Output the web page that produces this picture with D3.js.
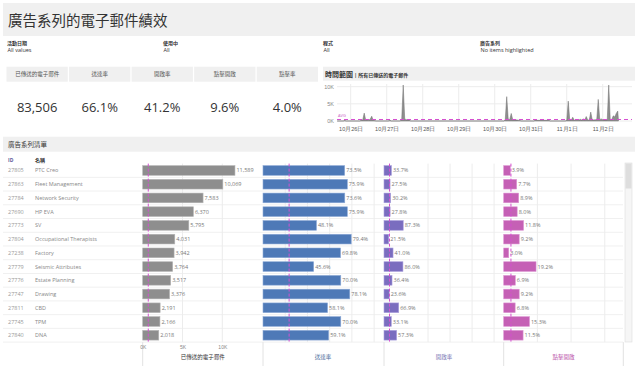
<!DOCTYPE html>
<html lang="zh-Hant">
<head>
<meta charset="UTF-8" />
<title>廣告系列的電子郵件績效</title>
<style>
  body { margin: 0; background: #fff; }
  svg { display: block; font-family: "Open Sans", "Noto Sans CJK TC", sans-serif; }
  .axis path, .axis line { display: none; }
</style>
</head>
<body>
<script src="https://cdn.jsdelivr.net/npm/d3@7"></script>
<script>
// ---- data ----
var filterLabels = ["活動日期", "使用中", "程式", "廣告系列"];
var filterValues = ["All values", "All", "All", "No items highlighted"];

var kpiLabels = ["已傳送的電子郵件", "送達率", "開啟率", "點擊開啟", "點擊率"];
var kpiValues = ["83,506", "66.1%", "41.2%", "9.6%", "4.0%"];

// emails sent over time
var sentTimes = [
  "2020-10-25 15:00", "2020-10-25 19:00", "2020-10-25 20:00", "2020-10-25 21:00",
  "2020-10-26 06:00", "2020-10-26 07:00", "2020-10-26 08:00", "2020-10-26 09:00",
  "2020-10-26 10:00", "2020-10-26 12:00", "2020-10-26 13:00", "2020-10-26 14:00",
  "2020-10-26 15:00", "2020-10-26 17:00",
  "2020-10-27 01:00", "2020-10-27 02:00", "2020-10-27 03:00", "2020-10-27 09:00",
  "2020-10-27 10:00", "2020-10-27 11:00", "2020-10-27 12:00", "2020-10-27 13:00",
  "2020-10-27 15:00", "2020-10-27 16:00",
  "2020-10-30 06:00", "2020-10-30 07:00", "2020-10-30 08:00", "2020-10-30 09:00",
  "2020-10-30 10:00", "2020-10-30 11:00", "2020-10-30 12:00", "2020-10-30 15:00",
  "2020-10-30 17:00", "2020-10-30 18:00",
  "2020-10-31 02:00", "2020-10-31 03:00", "2020-10-31 12:00", "2020-10-31 13:00",
  "2020-10-31 23:00",
  "2020-11-01 00:00", "2020-11-01 01:00", "2020-11-01 02:00", "2020-11-01 03:00",
  "2020-11-01 04:00", "2020-11-01 05:00", "2020-11-01 08:00", "2020-11-01 09:00",
  "2020-11-01 10:00", "2020-11-01 11:00", "2020-11-01 12:00", "2020-11-01 13:00",
  "2020-11-01 14:00", "2020-11-01 15:00", "2020-11-01 16:00", "2020-11-01 17:00",
  "2020-11-01 20:00", "2020-11-01 21:00", "2020-11-01 22:00", "2020-11-01 23:00",
  "2020-11-02 00:00", "2020-11-02 01:00", "2020-11-02 03:00", "2020-11-02 04:00",
  "2020-11-02 05:00", "2020-11-02 06:00", "2020-11-02 07:00", "2020-11-02 08:00",
  "2020-11-02 09:00", "2020-11-02 10:00", "2020-11-02 10:30"
];
var sentAmounts = [
  0, 0, 150, 0,
  0, 200, 300, 2300,
  300, 250, 500, 1400,
  200, 0,
  0, 250, 0, 0,
  500, 10500, 600, 400,
  300, 0,
  0, 300, 7100, 500,
  400, 2200, 400, 300,
  100, 0,
  0, 200, 200, 0,
  0,
  200, 5800, 300, 200,
  1100, 200, 200, 500,
  300, 600, 300, 1300,
  300, 200, 2600, 300,
  400, 6300, 400, 600,
  400, 300, 300, 10500,
  400, 400, 1500, 1200,
  2200, 2900, 100
];
var sentAverage = 440;

var campaignIds = ["27805", "27863", "27784", "27690", "27773", "27804", "27238",
  "27779", "27776", "27747", "27811", "27745", "27840"];
var campaignNames = ["PTC Creo", "Fleet Management", "Network Security", "HP EVA", "SV",
  "Occupational Therapists", "Factory", "Seismic Attributes", "Estate Planning",
  "Drawing", "CBD", "TPM", "DNA"];
var sentCounts = [11589, 10069, 7583, 6370, 5795, 4031, 3942, 3764, 3517, 3376, 2191, 2166, 2018];
var deliveryRates = [73.5, 75.9, 73.6, 75.9, 48.1, 79.4, 69.8, 45.6, 70.0, 78.1, 58.1, 70.0, 59.1];
var openRates = [33.7, 27.5, 30.2, 27.8, 87.3, 21.5, 41.0, 86.0, 36.4, 23.6, 66.9, 33.1, 57.3];
var clickOpenRates = [3.9, 7.7, 8.9, 8.0, 11.8, 9.2, 3.0, 19.2, 6.9, 9.2, 6.8, 15.3, 11.5];
var columnTitles = ["已傳送的電子郵件", "送達率", "開啟率", "點擊開啟"];
var columnAverages = [700, 23.5, 25, 4.3];

// ---- drawing ----
var svg = d3.select("body").append("svg")
  .attr("width", 640)
  .attr("height", 370);

var band = "#f0f0f0";

// title
svg.append("rect").attr("x", 3).attr("y", 3).attr("width", 632).attr("height", 33).attr("fill", band);
svg.append("text").attr("x", 8).attr("y", 26)
  .style("font-size", "14.5px").attr("fill", "#333")
  .text("廣告系列的電子郵件績效");

// filters
var filterX = [7, 163, 323, 480];
filterLabels.forEach(function(l, i) {
  svg.append("text").attr("x", filterX[i]).attr("y", 44.5)
    .style("font-size", "5px").style("font-weight", "bold").attr("fill", "#333").text(l);
  svg.append("text").attr("x", filterX[i] + 0.5).attr("y", 52)
    .style("font-size", "5.5px").attr("fill", "#333").text(filterValues[i]);
});

// KPI tiles
var kpiX = d3.scaleBand().domain(kpiLabels).range([6.5, 318]).paddingInner(0.02);
var kpi = svg.selectAll("g.kpi").data(kpiLabels).enter().append("g")
  .attr("class", "kpi")
  .attr("transform", function(d) { return "translate(" + kpiX(d) + ",0)"; });
kpi.append("rect").attr("y", 66.7).attr("height", 15).attr("width", kpiX.bandwidth()).attr("fill", band);
kpi.append("text").attr("x", kpiX.bandwidth() / 2).attr("y", 76)
  .attr("text-anchor", "middle").style("font-size", "5.5px").attr("fill", "#555")
  .text(function(d) { return d; });
kpi.append("text").attr("x", kpiX.bandwidth() / 2).attr("y", 111.5)
  .attr("text-anchor", "middle").style("font-size", "13px").attr("fill", "#333")
  .text(function(d, i) { return kpiValues[i]; });

// time chart header
svg.append("rect").attr("x", 323).attr("y", 66.7).attr("width", 312).attr("height", 14).attr("fill", band);
var th = svg.append("text").attr("x", 325).attr("y", 76.5).attr("fill", "#333");
th.append("tspan").style("font-size", "7px").style("font-weight", "bold").text("時間範圍");
th.append("tspan").style("font-size", "5px").style("font-weight", "bold").text(" | 所有已傳送的電子郵件");

var parseTime = d3.timeParse("%Y-%m-%d %H:%M");
var sentSeries = sentTimes.map(function(t, i) { return { t: parseTime(t), v: sentAmounts[i] }; });

var xTime = d3.scaleTime()
  .domain([parseTime("2020-10-25 14:52"), parseTime("2020-11-02 19:30")])
  .range([337, 632]);
var yTime = d3.scaleLinear().domain([0, 10000]).range([121, 86.7]);

// grid
var days = xTime.ticks(d3.timeDay.every(1));
svg.append("g").selectAll("line").data(days).enter().append("line")
  .attr("x1", function(d) { return xTime(d); }).attr("x2", function(d) { return xTime(d); })
  .attr("y1", 84).attr("y2", 121).attr("stroke", "#ececec");
svg.append("g").selectAll("line").data([0, 5000, 10000]).enter().append("line")
  .attr("x1", 337).attr("x2", 632)
  .attr("y1", function(d) { return yTime(d); }).attr("y2", function(d) { return yTime(d); })
  .attr("stroke", "#ececec");

var area = d3.area()
  .x(function(d) { return xTime(d.t); })
  .y0(yTime(0))
  .y1(function(d) { return yTime(d.v); });
svg.append("path").datum(sentSeries).attr("d", area)
  .attr("fill", "#8e8e8e").attr("stroke", "#6f6f6f").attr("stroke-width", 0.5);

svg.append("line").attr("x1", 337).attr("x2", 632)
  .attr("y1", yTime(sentAverage)).attr("y2", yTime(sentAverage))
  .attr("stroke", "#d54fd0").attr("stroke-width", 1).attr("stroke-dasharray", "4,3");
svg.append("text").attr("x", 338).attr("y", 117).style("font-size", "4px")
  .attr("fill", "#c75ac4").text("AVG");

svg.append("g").attr("class", "axis")
  .attr("transform", "translate(334,0)")
  .call(d3.axisLeft(yTime).tickValues([0, 5000, 10000]).tickSize(0).tickPadding(0)
    .tickFormat(function(d) { return d / 1000 + "K"; }))
  .selectAll("text").style("font-size", "5.5px").attr("fill", "#888");

svg.append("g").attr("class", "axis")
  .attr("transform", "translate(0,121)")
  .call(d3.axisBottom(xTime).ticks(d3.timeDay.every(1)).tickSize(0).tickPadding(6)
    .tickFormat(function(d) { return (d.getMonth() + 1) + "月" + d.getDate() + "日"; }))
  .selectAll("text").style("font-size", "5.5px").attr("fill", "#555");

// campaign list
svg.append("rect").attr("x", 3).attr("y", 136.7).attr("width", 632).attr("height", 15).attr("fill", band);
svg.append("text").attr("x", 8).attr("y", 146.5).style("font-size", "6.5px")
  .attr("fill", "#333").text("廣告系列清單");

svg.append("text").attr("x", 8).attr("y", 161.5).style("font-size", "5px")
  .style("font-weight", "bold").attr("fill", "#5b5b9b").text("ID");
svg.append("text").attr("x", 35).attr("y", 161.5).style("font-size", "5px")
  .style("font-weight", "bold").attr("fill", "#333").text("名稱");

var rowY = d3.scaleBand().domain(campaignIds).range([163.6, 342.1]);
var barH = 9.7;
var tableTop = 163.6, tableBottom = 342.1;

// row separators
svg.append("g").selectAll("line").data(campaignIds).enter().append("line")
  .attr("x1", 3).attr("x2", 623)
  .attr("y1", function(d) { return rowY(d) + rowY.bandwidth(); })
  .attr("y2", function(d) { return rowY(d) + rowY.bandwidth(); })
  .attr("stroke", "#f0f0f0");

svg.append("g").selectAll("text").data(campaignIds).enter().append("text")
  .attr("x", 8).attr("y", function(d) { return rowY(d) + rowY.bandwidth() / 2 + 2; })
  .style("font-size", "5.5px").attr("fill", "#999").text(function(d) { return d; });
svg.append("g").selectAll("text").data(campaignIds).enter().append("text")
  .attr("x", 35).attr("y", function(d) { return rowY(d) + rowY.bandwidth() / 2 + 2; })
  .style("font-size", "5.5px").attr("fill", "#888")
  .text(function(d, i) { return campaignNames[i]; });

var columns = [
  { values: sentCounts, scale: d3.scaleLinear().domain([0, 15075]).range([142.7, 262.7]),
    grid: [5000, 10000], color: "#8e8e8e", edge: "#b5b5b5", titleColor: "#333",
    fmt: d3.format(",") },
  { values: deliveryRates, scale: d3.scaleLinear().domain([0, 108]).range([263, 383]),
    grid: [20, 40, 60, 80, 100], color: "#4e79b7", edge: "#8eaad6", titleColor: "#4a6b9a",
    fmt: function(v) { return v.toFixed(1) + "%"; } },
  { values: openRates, scale: d3.scaleLinear().domain([0, 545]).range([384, 504]),
    grid: [200, 300, 400, 500], color: "#7a6dbf", edge: "#aaa0dc", titleColor: "#7b78b5",
    fmt: function(v) { return v.toFixed(1) + "%"; } },
  { values: clickOpenRates, scale: d3.scaleLinear().domain([0, 71]).range([503.7, 623.3]),
    grid: [20, 40, 60], color: "#c560b5", edge: "#dc97d2", titleColor: "#b950a8",
    fmt: function(v) { return v.toFixed(1) + "%"; } }
];

columns.forEach(function(c, ci) {
  var g = svg.append("g");
  var x0 = c.scale.range()[0], x1 = c.scale.range()[1];

  g.selectAll("line.grid").data(c.grid).enter().append("line")
    .attr("x1", function(d) { return c.scale(d); }).attr("x2", function(d) { return c.scale(d); })
    .attr("y1", tableTop).attr("y2", tableBottom).attr("stroke", "#ececec");

  g.selectAll("rect").data(c.values).enter().append("rect")
    .attr("x", x0)
    .attr("y", function(d, i) { return rowY(campaignIds[i]) + (rowY.bandwidth() - barH) / 2; })
    .attr("width", function(d) { return c.scale(d) - x0; })
    .attr("height", barH)
    .attr("fill", c.color).attr("stroke", c.edge).attr("stroke-width", 0.6);

  g.selectAll("text.val").data(c.values).enter().append("text")
    .attr("x", function(d) { return c.scale(d) + 1.5; })
    .attr("y", function(d, i) { return rowY(campaignIds[i]) + rowY.bandwidth() / 2 + 2; })
    .style("font-size", "5.5px").attr("fill", "#777")
    .text(function(d) { return c.fmt(d); });

  var ax = c.scale(columnAverages[ci]);
  g.append("line").attr("x1", ax).attr("x2", ax).attr("y1", tableTop).attr("y2", tableBottom)
    .attr("stroke", "#d54fd0").attr("stroke-width", 1).attr("stroke-dasharray", "3,2");

  g.append("line").attr("x1", x0).attr("x2", x0).attr("y1", tableBottom).attr("y2", 366)
    .attr("stroke", "#e2e2e2");
  if (ci === columns.length - 1) {
    g.append("line").attr("x1", x1).attr("x2", x1).attr("y1", tableBottom).attr("y2", 366)
      .attr("stroke", "#e2e2e2");
  }

  g.append("text").attr("x", (x0 + x1) / 2).attr("y", 359)
    .attr("text-anchor", "middle").style("font-size", "5.5px")
    .attr("fill", c.titleColor).text(columnTitles[ci]);
});

// sent axis ticks
svg.append("g").attr("class", "axis")
  .attr("transform", "translate(0," + tableBottom + ")")
  .call(d3.axisBottom(columns[0].scale).tickValues([0, 5000, 10000]).tickSize(0).tickPadding(3)
    .tickFormat(function(d) { return d / 1000 + "K"; }))
  .selectAll("text").style("font-size", "5px").attr("fill", "#888");

// scrollbar
svg.append("rect").attr("x", 625).attr("y", 163).attr("width", 7).attr("height", 179)
  .attr("fill", "#f6f6f6").attr("stroke", "#dcdcdc").attr("stroke-width", 0.6);
svg.append("rect").attr("x", 625.5).attr("y", 163.5).attr("width", 6).attr("height", 25)
  .attr("fill", "#dedede");
</script>
</body>
</html>
